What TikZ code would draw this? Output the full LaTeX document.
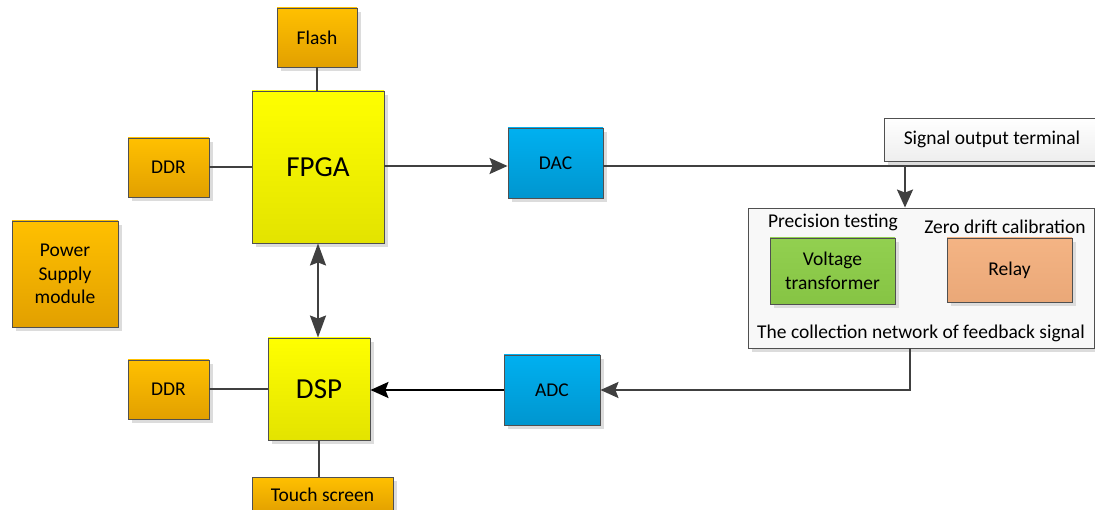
\documentclass[tikz,border=0pt]{standalone}
\usepackage{fontspec}
\setmainfont{Carlito}
\usetikzlibrary{arrows.meta,shadows,calc}
\definecolor{bd}{HTML}{505050}
\definecolor{ln}{HTML}{404040}
\definecolor{shd}{HTML}{DCDCDC}
\definecolor{ye1}{HTML}{FFFF00}
\definecolor{ye2}{HTML}{E3E300}
\definecolor{or1}{HTML}{FFC000}
\definecolor{or2}{HTML}{E2A000}
\definecolor{bl1}{HTML}{00B0F0}
\definecolor{bl2}{HTML}{0096CF}
\definecolor{gr1}{HTML}{92D050}
\definecolor{gr2}{HTML}{86C444}
\definecolor{re1}{HTML}{F4B484}
\definecolor{re2}{HTML}{EAA878}
\definecolor{wh2}{HTML}{EEEEEE}
\definecolor{fbf}{HTML}{F8F8F8}
\tikzset{
  box/.style={draw=bd, line width=0.9pt, align=center, inner sep=0pt,
    font=\fontsize{19.5}{23.5}\selectfont,
    drop shadow={shadow xshift=4pt,shadow yshift=-4pt,fill=shd,opacity=1}},
  orangebox/.style={box, top color=or1, bottom color=or2},
  yellowbox/.style={box, top color=ye1, bottom color=ye2, font=\fontsize{29}{34}\selectfont},
  bluebox/.style={box, top color=bl1, bottom color=bl2},
  conn/.style={draw=ln, line width=2pt},
  tip/.style={-{Stealth[length=18pt,width=16pt,inset=3pt]}},
  arr/.style={conn, tip},
  dblarr/.style={conn, {Stealth[length=22pt,width=16pt,inset=3pt]}-{Stealth[length=22pt,width=16pt,inset=3pt]}},
  lbl/.style={inner sep=0pt, font=\fontsize{19.5}{23.5}\selectfont}
}
\begin{document}
\begin{tikzpicture}[x=1pt,y=-1pt]
\useasboundingbox (0,0) rectangle (1095,510);
% main boxes
\node[orangebox, minimum width=80pt, minimum height=59pt] (flash) at (317,37.5) {Flash};
\node[yellowbox, minimum width=132pt, minimum height=152pt] (fpga) at (318,167) {FPGA};
\node[orangebox, minimum width=81pt, minimum height=59pt] (ddra) at (168.5,167.5) {DDR};
\node[bluebox, minimum width=95pt, minimum height=70pt] (dac) at (555.5,163) {DAC};
\node[orangebox, minimum width=106pt, minimum height=106pt] (power) at (65,274) {Power\\Supply\\module};
\node[yellowbox, minimum width=102pt, minimum height=102pt] (dsp) at (319,389) {DSP};
\node[orangebox, minimum width=81pt, minimum height=59pt] (ddrb) at (168.5,389.5) {DDR};
\node[orangebox, minimum width=141pt, minimum height=36pt] (touch) at (322.5,495) {Touch screen};
\node[bluebox, minimum width=96pt, minimum height=70pt] (adc) at (552,390) {ADC};
% right side
\node[box, top color=white, bottom color=wh2, minimum width=230pt, minimum height=43pt] (sot) at (999,139.5) {};
\node[lbl] (sottext) at (992,139.5) {Signal output terminal};
\node[box, fill=fbf, minimum width=346pt, minimum height=140pt] (fb) at (921,278) {};
\node[lbl] (prec) at (833,222) {Precision testing};
\node[lbl] (zero) at (1005,227) {Zero drift calibration};
\node[box, top color=gr1, bottom color=gr2, minimum width=125pt, minimum height=66pt] (vt) at (832.5,271) {Voltage\\transformer};
\node[box, top color=re1, bottom color=re2, minimum width=125pt, minimum height=64pt] (relay) at (1009.5,270) {Relay};
\node[lbl] (coll) at (921,333) {The collection network of feedback signal};
% coordinates
\coordinate (junc) at (905,166);
\coordinate (rightend) at (1095,166);
\coordinate (fbout) at ($(fb.south)+(-11,0)$);
% connectors
\draw[conn] (flash.south) -- (flash.south |- fpga.north);
\draw[conn] (ddra.east) -- (ddra.east -| fpga.west);
\draw[arr] (fpga.east |- junc) -- (junc -| dac.west);
\draw[conn] (dac.east |- junc) -- (rightend);
\draw[arr] (junc) -- (junc |- fb.north);
\draw[arr] (fbout) |- (adc.east);
\draw[conn, draw=black, tip] (adc.west) -- (adc.west -| dsp.east);
\draw[conn] (ddrb.east) -- (ddrb.east -| dsp.west);
\draw[conn] (dsp.south) -- (dsp.south |- touch.north);
\draw[dblarr] (fpga.south) -- (fpga.south |- dsp.north);
\end{tikzpicture}
\end{document}
